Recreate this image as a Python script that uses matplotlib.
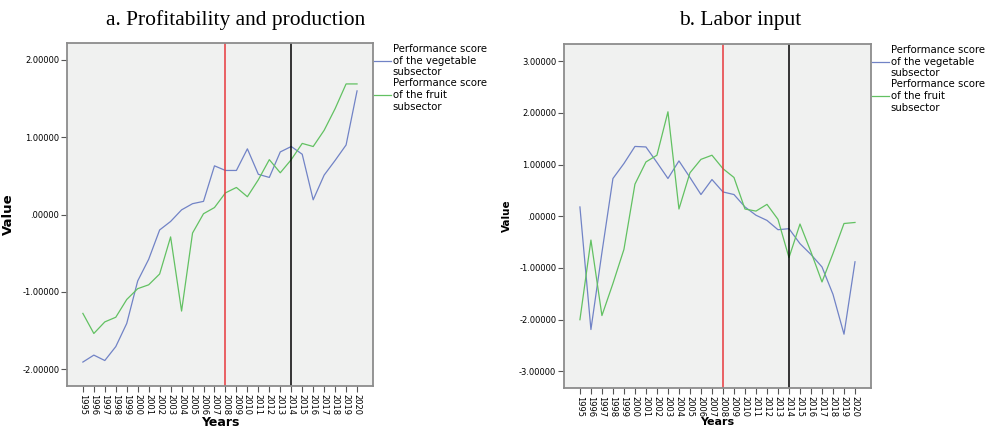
import matplotlib
matplotlib.use("Agg")
import matplotlib.pyplot as plt
import numpy as np
from matplotlib.ticker import FuncFormatter

years = list(range(1995, 2021))

# a. Profitability and production
veg_profit = [-1.91, -1.82, -1.89, -1.71, -1.41, -0.86, -0.58, -0.20, -0.09, 0.06,
              0.14, 0.17, 0.63, 0.57, 0.57, 0.85, 0.52, 0.48, 0.81, 0.88,
              0.78, 0.19, 0.51, 0.70, 0.90, 1.60]
fruit_profit = [-1.28, -1.54, -1.39, -1.33, -1.10, -0.96, -0.91, -0.77, -0.29, -1.25,
                -0.24, 0.01, 0.09, 0.28, 0.35, 0.23, 0.45, 0.71, 0.54, 0.71,
                0.92, 0.88, 1.09, 1.37, 1.69, 1.69]

# b. Labor input
veg_labor = [0.18, -2.19, -0.70, 0.73, 1.02, 1.35, 1.34, 1.04, 0.73, 1.07,
             0.75, 0.42, 0.71, 0.47, 0.42, 0.18, 0.02, -0.08, -0.26, -0.24,
             -0.53, -0.74, -0.98, -1.51, -2.28, -0.88]
fruit_labor = [-2.00, -0.46, -1.92, -1.30, -0.64, 0.62, 1.05, 1.18, 2.02, 0.14,
               0.84, 1.10, 1.18, 0.92, 0.75, 0.14, 0.10, 0.23, -0.06, -0.80,
               -0.15, -0.69, -1.27, -0.72, -0.14, -0.12]

labels = ["Performance score\nof the vegetable\nsubsector",
          "Performance score\nof the fruit\nsubsector"]
blue = "#7183c6"
green = "#62c162"


def fmt(v, pos):
    s = "%.5f" % v
    if s.startswith("-0."):
        s = "-" + s[2:]
    elif s.startswith("0."):
        s = s[1:]
    if s == "-.00000":
        s = ".00000"
    return s


fig = plt.figure(figsize=(9.98, 4.29), dpi=100)
ax1 = fig.add_axes([0.0671, 0.1002, 0.3066, 0.7996])
ax2 = fig.add_axes([0.5651, 0.0956, 0.3076, 0.8018])

panels = [
    (ax1, veg_profit, fruit_profit, (-2.22, 2.22), [-2, -1, 0, 1, 2], 9.5, 9),
    (ax2, veg_labor, fruit_labor, (-3.32, 3.33), [-3, -2, -1, 0, 1, 2, 3], 7.5, 8),
]

for ax, v, f, ylim, yt, ylab_fs, xlab_fs in panels:
    ax.set_facecolor("#f0f1f0")
    ax.plot(years, v, color=blue, lw=0.9, label=labels[0])
    ax.plot(years, f, color=green, lw=0.9, label=labels[1])
    ax.axvline(2008, color="#e8393c", lw=1.1)
    ax.axvline(2014, color="black", lw=1.1)
    ax.set_xlim(1993.55, 2021.45)
    ax.set_ylim(*ylim)
    ax.set_xticks(years)
    ax.set_xticklabels([str(y) for y in years], rotation=-90, fontsize=6)
    ax.set_yticks(yt)
    ax.yaxis.set_major_formatter(FuncFormatter(fmt))
    ax.tick_params(axis="both", labelsize=6, length=4, width=0.8,
                   color="#555555", direction="out", pad=1.5)
    for s in ax.spines.values():
        s.set_color("#8c8c8c")
        s.set_linewidth(1.3)
    ax.set_ylabel("Value", fontsize=ylab_fs, fontweight="bold")
    ax.set_xlabel("Years", fontsize=xlab_fs, fontweight="bold")
    ax.legend(loc="upper left", bbox_to_anchor=(1.0, 1.0), frameon=False,
              fontsize=7.3, handlelength=1.7, handletextpad=0.15,
              borderaxespad=0, borderpad=0.1, labelspacing=0.12)

ax1.yaxis.set_label_coords(-0.17, 0.5)
ax2.yaxis.set_label_coords(-0.17, 0.5)
ax1.xaxis.set_label_coords(0.5, -0.087)
ax2.xaxis.set_label_coords(0.5, -0.083)

fig.text(236 / 998, 1 - 20 / 429, "a. Profitability and production",
         ha="center", va="center", fontsize=15.5, family="Liberation Serif")
fig.text(740 / 998, 1 - 20 / 429, "b. Labor input",
         ha="center", va="center", fontsize=15.5, family="Liberation Serif")

fig.savefig("out.png", dpi=100)
